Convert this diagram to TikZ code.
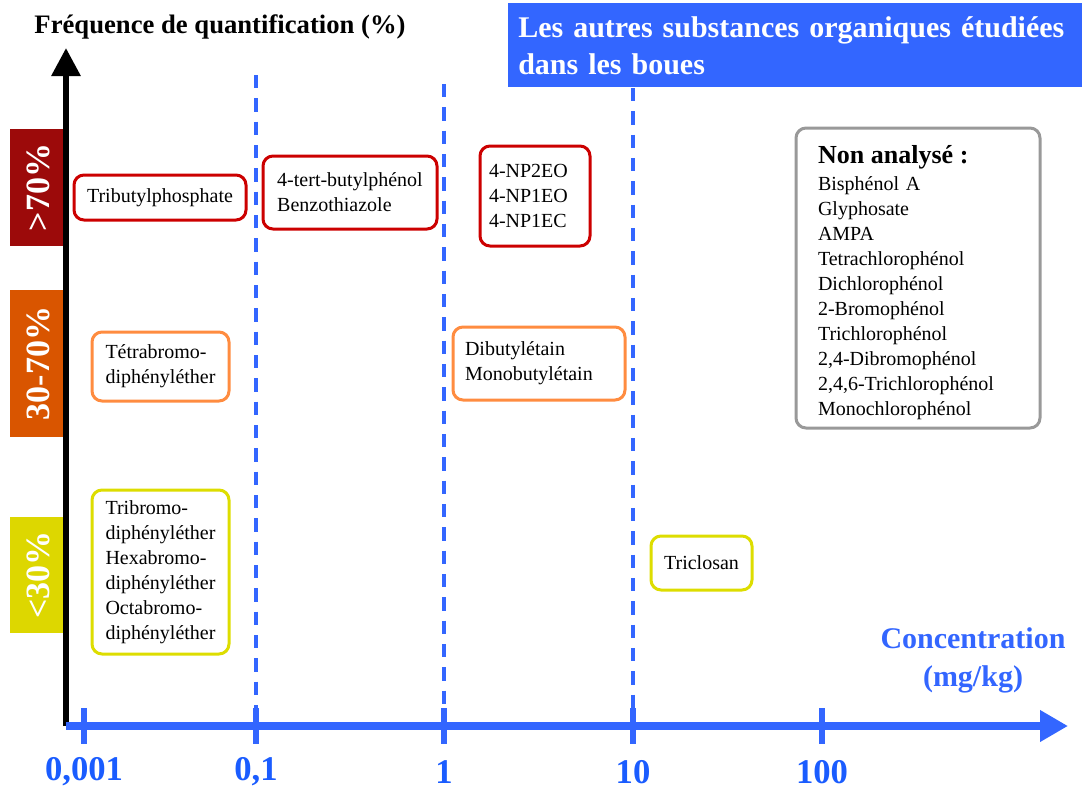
\documentclass[tikz,border=0pt]{standalone}
\usepackage{fontspec}
\setmainfont{Liberation Serif}
\usetikzlibrary{arrows.meta}
\definecolor{bleu}{RGB}{51,102,255}
\definecolor{bleuchiffre}{RGB}{26,92,255}
\definecolor{rougefonce}{RGB}{156,10,10}
\definecolor{orangefonce}{RGB}{217,85,0}
\definecolor{jaunefonce}{RGB}{221,215,0}
\definecolor{rouge}{RGB}{204,0,0}
\definecolor{orangeclair}{RGB}{255,140,64}
\definecolor{jaune}{RGB}{221,221,0}
\definecolor{gris}{RGB}{153,153,153}
\tikzstyle{substance} = [rectangle, rounded corners=7.5pt, draw, line width=2.25pt, fill=white, align=left, inner sep=0pt, font=\fontsize{15}{18.75}\selectfont]
\tikzstyle{classe} = [rectangle, inner sep=0pt, minimum height=42pt, text=white, font=\bfseries\fontsize{25.5}{25.5}\selectfont, rotate=90]
\tikzstyle{graduation} = [text=bleuchiffre, font=\bfseries\fontsize{26}{26}\selectfont]

\begin{document}
\begin{tikzpicture}[x=0.75pt, y=-0.75pt]
        \useasboundingbox (0,0) rectangle (1082,789);

        % titre
        \node (titre) [anchor=north west, fill=bleu, text=white, align=left, minimum width=430.5pt, minimum height=63pt, text width=415.5pt, inner xsep=7.5pt, font=\bfseries\fontsize{22.5}{27.75}\selectfont] at (508,3) {Les autres substances organiques étudiées\\dans les boues};

        % classes de frequence
        \node (c70) [classe, fill=rougefonce, minimum width=87.75pt] at (38,187.5) {>70\%};
        \node (c30a70) [classe, fill=orangefonce, minimum width=110.25pt] at (38,363.5) {30-70\%};
        \node (c30) [classe, fill=jaunefonce, minimum width=87pt] at (38,575) {<30\%};

        % lignes de separation
        \foreach \x/\haut in {256/75,444/84,633/88}
            \draw[bleu, line width=2.4pt, dash pattern=on 10pt off 7.5pt] (\x,\haut) -- (\x,708);

        % axes
        \coordinate (O) at (66,726);
        \coordinate (Ytop) at (66,48);
        \coordinate (Xend) at (1068,726);
        \draw[line width=4.5pt, -{Triangle[width=21pt, length=21pt]}] (O) -- (Ytop);
        \draw[bleu, line width=6pt, -{Triangle[width=22.5pt, length=21pt]}] (O) -- (Xend);
        \foreach \x/\val [count=\i] in {84/{0,001},256/{0,1},444/1,633/10,822/100} {
            \draw[bleu, line width=4.5pt] (\x,708) -- (\x,744);
            \node (grad\i) [graduation] at (\x,772) {\val};
        }

        \node (titreY) [font=\bfseries\fontsize{20}{20}\selectfont] at (220,27) {Fréquence de quantification (\%)};
        \node (titreX) [text=bleu, align=center, font=\bfseries\fontsize{22.5}{28.5}\selectfont] at (973,660) {Concentration\\(mg/kg)};

        % substances
        \node (tbp) [substance, draw=rouge, minimum width=129pt, minimum height=33.75pt] at (160,197.5) {Tributylphosphate};
        \node (butyl) [substance, draw=rouge, minimum width=130.5pt, minimum height=54.75pt] at (350,192.5) {4-tert-butylphénol\\Benzothiazole};
        \node (np) [substance, draw=rouge, minimum width=82.5pt, minimum height=75pt, text width=69pt, inner xsep=6.75pt] at (535,196) {4-NP2EO\\4-NP1EO\\4-NP1EC};
        \node (tetra) [substance, draw=orangeclair, minimum width=102.75pt, minimum height=51.75pt] at (160.5,366.5) {Tétrabromo-\\diphényléther};
        \node (etain) [substance, draw=orangeclair, minimum width=129pt, minimum height=54.75pt, text width=111pt, inner xsep=9pt] at (539,363.5) {Dibutylétain\\Monobutylétain};
        \node (bromo) [substance, draw=jaune, minimum width=102.75pt, minimum height=123pt] at (160.5,572) {Tribromo-\\diphényléther\\Hexabromo-\\diphényléther\\Octabromo-\\diphényléther};
        \node (triclo) [substance, draw=jaune, minimum width=75.75pt, minimum height=40.5pt] at (701.5,563) {Triclosan};

        \node (nonana) [substance, draw=gris, minimum width=183pt, minimum height=225pt, text width=150pt, inner xsep=16.5pt] at (918,278) {\rule{0pt}{21pt}{\bfseries\fontsize{19.5}{21}\selectfont Non analysé :}\\[1.5pt]
            Bisphénol A\\
            Glyphosate\\
            AMPA\\
            Tetrachlorophénol\\
            Dichlorophénol\\
            2-Bromophénol\\
            Trichlorophénol\\
            2,4-Dibromophénol\\
            2,4,6-Trichlorophénol\\
            Monochlorophénol};

    \end{tikzpicture}
\end{document}
